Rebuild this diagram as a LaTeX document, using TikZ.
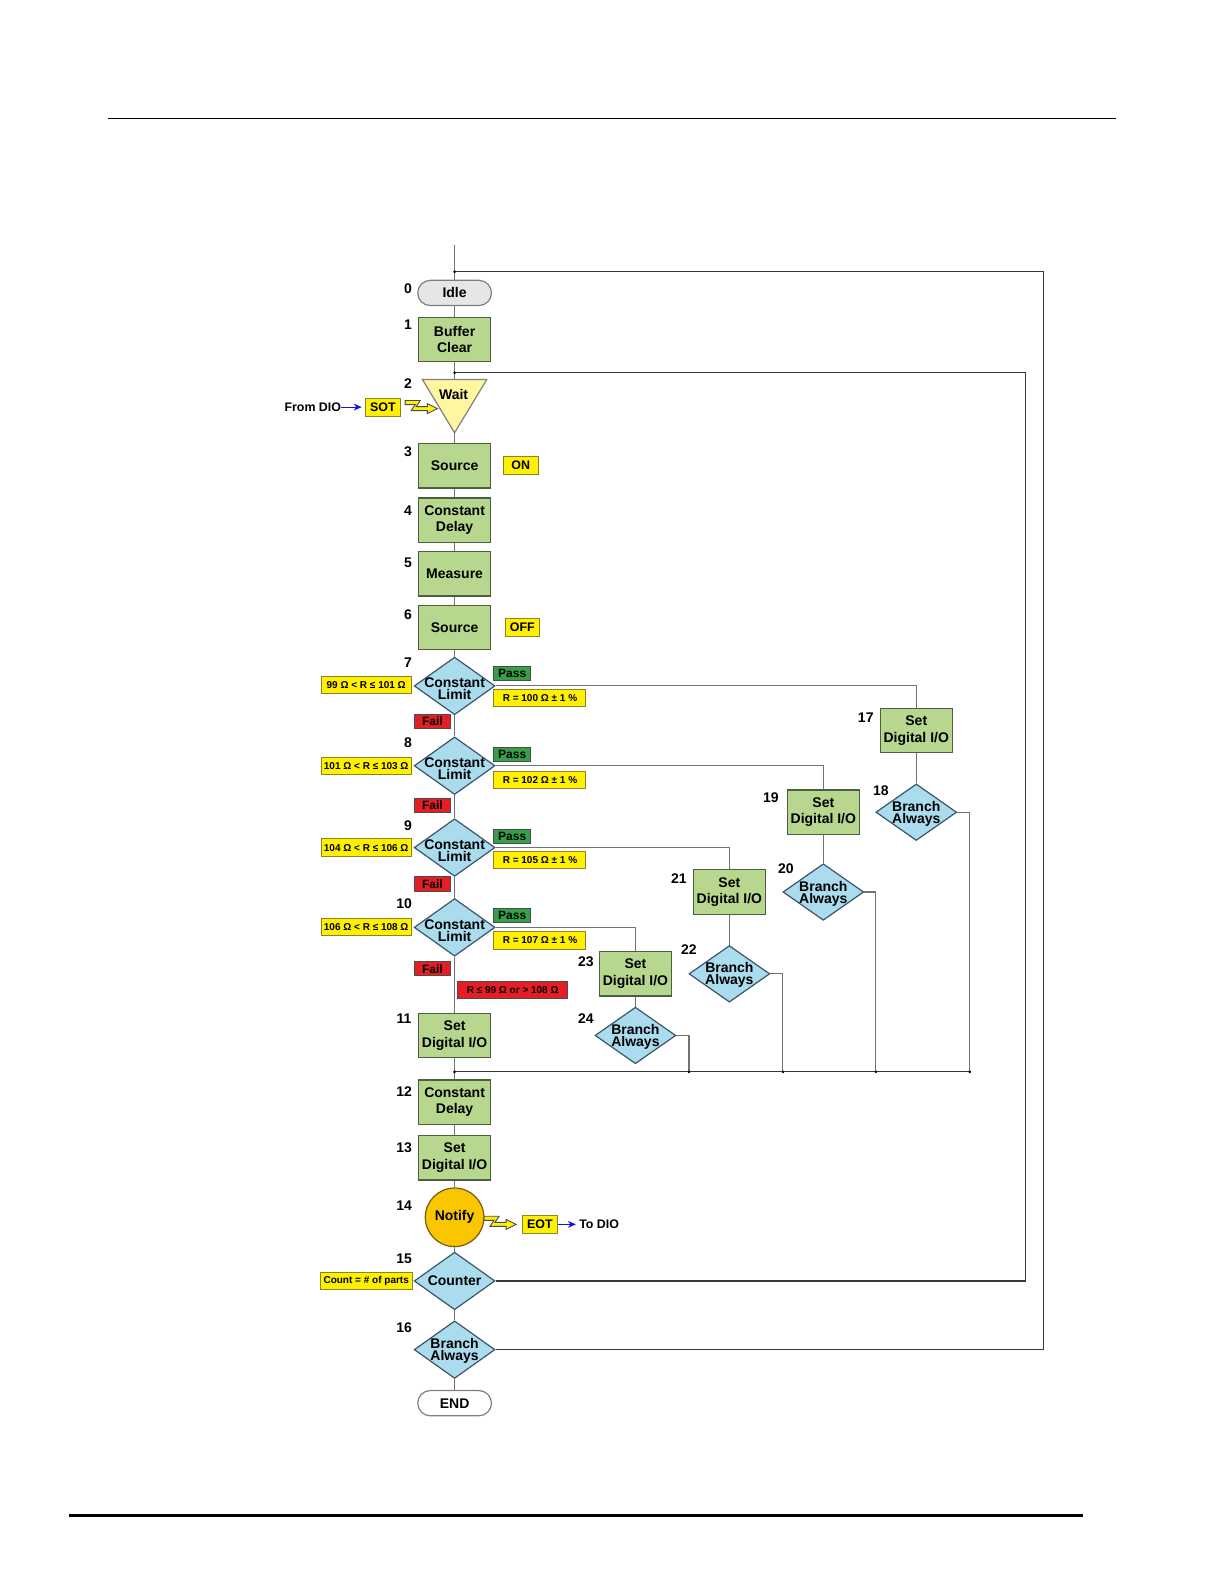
\documentclass[tikz,border=0pt]{standalone}
\usepackage{fontspec}
\setmainfont{Liberation Sans}
\usetikzlibrary{shapes.geometric,arrows.meta}
\newlength\pxu \setlength\pxu{0.50495pt}
\definecolor{procfill}{RGB}{184,215,142}
\definecolor{procdraw}{RGB}{75,95,65}
\definecolor{decfill}{RGB}{170,220,238}
\definecolor{decdraw}{RGB}{60,85,105}
\definecolor{lblfill}{RGB}{255,239,0}
\definecolor{lbldraw}{RGB}{140,130,40}
\definecolor{passfill}{RGB}{52,160,72}
\definecolor{failfill}{RGB}{228,30,36}
\definecolor{notifyfill}{RGB}{250,198,0}
\definecolor{notifydraw}{RGB}{120,90,20}
\definecolor{waitfill}{RGB}{255,246,160}
\definecolor{idlefill}{RGB}{230,230,230}
\definecolor{linegray}{RGB}{115,115,115}
\definecolor{linedark}{RGB}{55,55,55}
\definecolor{dioblue}{RGB}{20,20,230}
\begin{document}
\begin{tikzpicture}[x=0.50495pt,y=-0.50495pt,
  proc/.style={rectangle, draw=procdraw, fill=procfill, line width=0.6pt, minimum width=71\pxu, minimum height=44\pxu, inner sep=0pt, align=center, font=\fontsize{7}{8.3}\selectfont\bfseries},
  dec/.style={diamond, draw=decdraw, fill=decfill, line width=0.6pt, minimum width=80\pxu, minimum height=57\pxu, inner sep=0pt},
  dectext/.style={align=center, font=\fontsize{7}{6}\selectfont\bfseries, inner sep=0pt},
  cltext/.style={dectext, yshift=-1.6pt},
  batext/.style={dectext, yshift=-0.7pt},
  term/.style={rectangle, rounded corners=12.5\pxu, draw=gray, line width=0.6pt, minimum width=73\pxu, minimum height=25\pxu, inner sep=0pt, font=\fontsize{7}{8}\selectfont\bfseries},
  num/.style={font=\fontsize{7}{8}\selectfont\bfseries, inner sep=0pt},
  lbl/.style={draw=lbldraw, fill=lblfill, line width=0.5pt, inner sep=0pt, minimum height=17\pxu, font=\fontsize{5}{6}\selectfont\bfseries},
  tagbox/.style={draw=black!70, line width=0.5pt, inner sep=0pt, minimum width=36\pxu, minimum height=14\pxu, font=\fontsize{6}{7}\selectfont\bfseries},
  passtag/.style={tagbox, fill=passfill},
  failtag/.style={tagbox, fill=failfill},
  io/.style={draw=lbldraw, fill=lblfill, line width=0.5pt, inner sep=0pt, minimum width=35\pxu, minimum height=18\pxu, font=\fontsize{6.2}{7}\selectfont\bfseries},
  plain/.style={font=\fontsize{6.2}{7}\selectfont\bfseries, inner sep=0pt},
  conn/.style={draw=linegray, line width=0.55pt},
  loopline/.style={draw=linedark, line width=0.55pt},
  dioarrow/.style={draw=dioblue, line width=0.5pt, -{Stealth[length=4pt,width=3.5pt]}},
  jdot/.style={circle, fill=black, inner sep=0pt, minimum size=3\pxu},
  bolt/.pic={\draw[fill=lblfill, draw=black!70, line width=0.45pt, line join=miter]
     (0,0) -- (15,0) -- (11,6) -- (22,6) -- (22,3) -- (32,8) -- (22,13) -- (22,10) -- (6,10) -- (10,4) -- (0,4) -- cycle;}
]
\useasboundingbox (0,0) rectangle (1212,1568);
% page rules
\draw[line width=0.5pt] (107,117) -- (1105,117);
\draw[line width=1.5pt] (68,1500) -- (1072,1500);

% main column
\coordinate (top) at (450,243);
\coordinate (j0) at (450,269);
\coordinate (j1) at (450,369);
\coordinate (j2) at (450,1061);
\coordinate (r0) at (1033,269);
\coordinate (r1) at (1015,369);
\coordinate (b24) at (682,1061);
\coordinate (b22) at (775,1061);
\coordinate (b20) at (867,1061);
\coordinate (b18) at (960,1061);

\node[term, fill=idlefill] (idle) at (450,290) {Idle};
\node[proc] (s1) at (450,336) {Buffer\\Clear};
\node[minimum width=63\pxu, minimum height=52\pxu, inner sep=0pt] (wait) at (450,402) {};
\draw[fill=waitfill, draw=gray, line width=0.6pt] (wait.north west) -- (wait.north east) -- (wait.south) -- cycle;
\node[num] (waittxt) at (449,391) {Wait};
\node[proc] (s3) at (450,461) {Source};
\node[proc] (s4) at (450,515) {Constant\\Delay};
\node[proc] (s5) at (450,568) {Measure};
\node[proc] (s6) at (450,621) {Source};
\node[dec, label={[cltext]center:Constant\\Limit}] (d7) at (450,679) {};
\node[dec, label={[cltext]center:Constant\\Limit}] (d8) at (450,758) {};
\node[dec, label={[cltext]center:Constant\\Limit}] (d9) at (450,839) {};
\node[dec, label={[cltext]center:Constant\\Limit}] (d10) at (450,918) {};
\node[proc] (s11) at (450,1025) {Set\\Digital I/O};
\node[proc] (s12) at (450,1091) {Constant\\Delay};
\node[proc] (s13) at (450,1146) {Set\\Digital I/O};
\pic at (479,1204) {bolt};
\node[circle, draw=notifydraw, fill=notifyfill, line width=0.6pt, minimum size=58\pxu, inner sep=0pt, font=\fontsize{7}{8}\selectfont\bfseries] (s14) at (450,1205) {Notify};
\node[dec, label={[dectext]center:Counter}] (d15) at (450,1268) {};
\node[dec, label={[batext]center:Branch\\Always}] (d16) at (450,1336) {};
\node[term, fill=white] (endn) at (450,1389) {END};

% branch column
\node[proc] (s17) at (907,723) {Set\\Digital I/O};
\node[dec, minimum height=56\pxu, label={[batext]center:Branch\\Always}] (d18) at (907,804) {};
\node[proc] (s19) at (815,804) {Set\\Digital I/O};
\node[dec, minimum height=56\pxu, label={[batext]center:Branch\\Always}] (d20) at (815,883) {};
\node[proc] (s21) at (722,883) {Set\\Digital I/O};
\node[dec, minimum height=56\pxu, label={[batext]center:Branch\\Always}] (d22) at (722,964) {};
\node[proc] (s23) at (629,964) {Set\\Digital I/O};
\node[dec, minimum height=56\pxu, label={[batext]center:Branch\\Always}] (d24) at (629,1025) {};

% step numbers
\node[num] (n0) at (404,286) {0};
\node[num] (n1) at (404,321) {1};
\node[num] (n2) at (404,380) {2};
\node[num] (n3) at (404,447) {3};
\node[num] (n4) at (404,506) {4};
\node[num] (n5) at (404,557) {5};
\node[num] (n6) at (404,608) {6};
\node[num] (n7) at (404,656) {7};
\node[num] (n8) at (404,735) {8};
\node[num] (n9) at (404,817) {9};
\node[num] (n10) at (400,895) {10};
\node[num] (n11) at (400,1008) {11};
\node[num] (n12) at (400,1081) {12};
\node[num] (n13) at (400,1136) {13};
\node[num] (n14) at (400,1193) {14};
\node[num] (n15) at (400,1246) {15};
\node[num] (n16) at (400,1314) {16};
\node[num] (n17) at (857,710) {17};
\node[num] (n18) at (872,783) {18};
\node[num] (n19) at (763,790) {19};
\node[num] (n20) at (778,860) {20};
\node[num] (n21) at (672,870) {21};
\node[num] (n22) at (682,940) {22};
\node[num] (n23) at (580,952) {23};
\node[num] (n24) at (580,1008) {24};

% side labels
\node[io] (sot) at (379,403) {SOT};
\node[plain, anchor=east] (fromdio) at (338,403) {From DIO};
\pic at (401,396.5) {bolt};
\node[io] (on) at (515.5,461) {ON};
\node[io, minimum width=34\pxu] (off) at (517,621) {OFF};
\node[io] (eot) at (534.5,1212) {EOT};
\node[plain, anchor=west] (todio) at (573,1212) {To DIO};

\node[lbl, minimum width=89\pxu] (l7) at (362.5,678) {99 Ω < R ≤ 101 Ω};
\node[lbl, minimum width=89\pxu] (l8) at (362.5,758) {101 Ω < R ≤ 103 Ω};
\node[lbl, minimum width=89\pxu] (l9) at (362.5,839) {104 Ω < R ≤ 106 Ω};
\node[lbl, minimum width=89\pxu] (l10) at (362.5,918) {106 Ω < R ≤ 108 Ω};
\node[lbl, minimum width=91\pxu] (l15) at (362.5,1268) {Count = \# of parts};

\node[lbl, minimum width=91\pxu] (r7) at (534.5,691) {R = 100 Ω ± 1 \%};
\node[lbl, minimum width=91\pxu] (r8) at (534.5,772) {R = 102 Ω ± 1 \%};
\node[lbl, minimum width=91\pxu] (r9) at (534.5,851) {R = 105 Ω ± 1 \%};
\node[lbl, minimum width=91\pxu] (r10) at (534.5,931) {R = 107 Ω ± 1 \%};

\node[passtag] (p7) at (507,667) {Pass};
\node[passtag] (p8) at (507,747) {Pass};
\node[passtag] (p9) at (507,828) {Pass};
\node[passtag] (p10) at (507,906) {Pass};
\node[failtag] (f7) at (428,714) {Fail};
\node[failtag] (f8) at (428,797) {Fail};
\node[failtag] (f9) at (428,875) {Fail};
\node[failtag] (f10) at (428,959) {Fail};
\node[failtag, minimum width=109\pxu, minimum height=16\pxu, font=\fontsize{5}{6}\selectfont\bfseries] (fall) at (507.5,980) {R ≤ 99 Ω or > 108 Ω};

% arrows to/from DIO
\draw[dioarrow, shorten >=3\pxu] (fromdio.east) -- (sot.west);
\draw[dioarrow, shorten >=3\pxu] (eot.east) -- (todio.west);

% main connectors
\draw[conn] (top) -- (idle.north);
\draw[conn] (idle.south) -- (s1.north);
\draw[conn] (s1.south) -- (wait.north);
\draw[conn] (wait.south) -- (s3.north);
\draw[conn] (s3.south) -- (s4.north);
\draw[conn] (s4.south) -- (s5.north);
\draw[conn] (s5.south) -- (s6.north);
\draw[conn] (s6.south) -- (d7.north);
\draw[conn] (d7.south) -- (d8.north);
\draw[conn] (d8.south) -- (d9.north);
\draw[conn] (d9.south) -- (d10.north);
\draw[conn] (d10.south) -- (s11.north);
\draw[conn] (s11.south) -- (s12.north);
\draw[conn] (s12.south) -- (s13.north);
\draw[conn] (s13.south) -- (s14.north);
\draw[conn] (s14.south) -- (d15.north);
\draw[conn] (d15.south) -- (d16.north);
\draw[conn] (d16.south) -- (endn.north);

% loops back
\draw[loopline] (d16.east) -| (r0) -- (j0);
\draw[loopline] (d15.east) -| (r1) -- (j1);

% pass branches
\draw[conn] (d7.east) -| (s17.north);
\draw[conn] (s17.south) -- (d18.north);
\draw[conn] (d18.east) -| (b18);
\draw[conn] (d8.east) -| (s19.north);
\draw[conn] (s19.south) -- (d20.north);
\draw[conn] (d20.east) -| (b20);
\draw[conn] (d9.east) -| (s21.north);
\draw[conn] (s21.south) -- (d22.north);
\draw[conn] (d22.east) -| (b22);
\draw[conn] (d10.east) -| (s23.north);
\draw[conn] (s23.south) -- (d24.north);
\draw[conn] (d24.east) -| (b24);
\draw[loopline] (j2) -- (b18);

% junction dots
\foreach \p in {j0,j1,j2,b24,b22,b20,b18} \node[jdot] at (\p) {};
\end{tikzpicture}
\end{document}
